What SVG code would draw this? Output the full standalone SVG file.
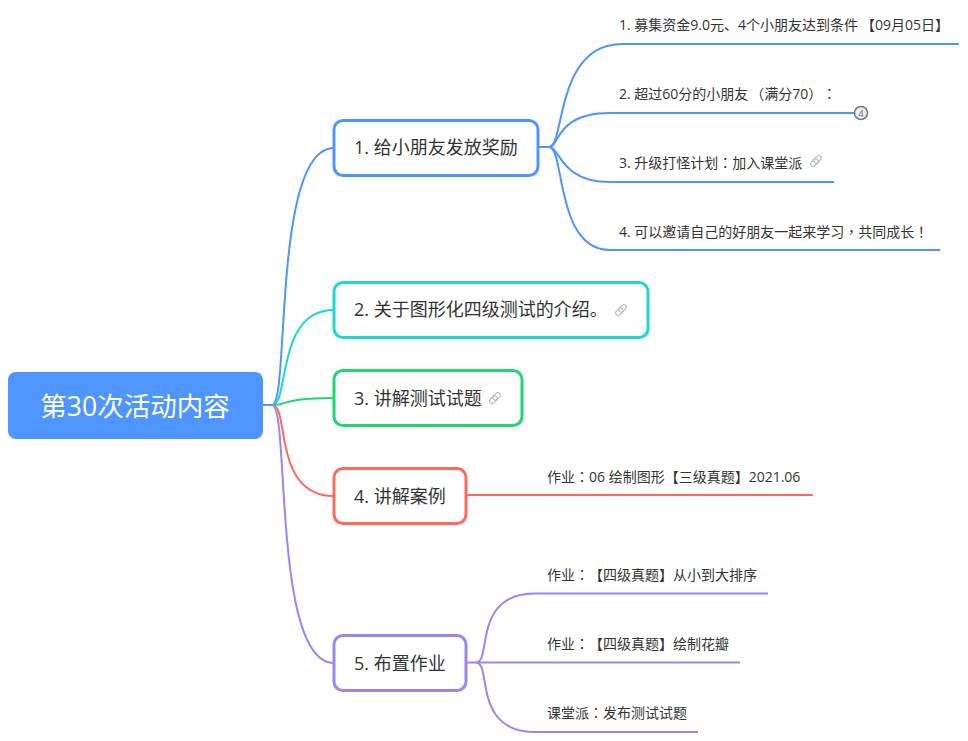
<svg xmlns="http://www.w3.org/2000/svg" width="968" height="741" viewBox="0 0 968 741">
<style>
text{font-family:"Open Sans","Noto Sans CJK SC",sans-serif;fill:#333;text-spacing-trim:space-all}
.n{font-size:18px}
.l{font-size:14px}
.p{font-family:"Noto Sans CJK TC",sans-serif}
.box{fill:#fff;stroke-width:3}
.c{fill:none;stroke-width:2}
.lk{fill:none;stroke:#b4b4b4;stroke-width:1}
</style>
<defs>
<g id="link"><rect x="-7" y="-2.500" width="8.500" height="5" rx="2.500" transform="rotate(-45 -2.700 0) translate(-0.300 1.900)" class="lk"/><rect x="-1.500" y="-2.500" width="8.500" height="5" rx="2.500" transform="rotate(-45 2.700 0) translate(0.300 -1.900)" class="lk"/></g>
</defs>
<rect width="968" height="741" fill="#fff"/>
<g id="connectors">
<g stroke="#4f95ff" class="c">
<path d="M263 405H272C290 405 272 148 334 148"/>
<path d="M538 147H549C565 147 555 44 622 44H959"/>
<path d="M549 147C560 147 555 113 610 113H854"/>
<path d="M549 147C560 147 560 182 610 182H834"/>
<path d="M549 147C565 147 555 250 610 250H940"/>
</g>
<path stroke="#1dd8d0" class="c" d="M272 405C290 405 275 310 334 310"/>
<path stroke="#1ed76f" class="c" d="M272 405C290 405 280 398 334 398"/>
<path stroke="#ff6a5e" class="c" d="M272 405C290 405 272 496 334 496"/>
<path stroke="#ff6a5e" class="c" d="M466 495H813"/>
<path stroke="#9c84f5" class="c" d="M272 405C290 405 272 663 334 663"/>
<g stroke="#9c84f5" class="c">
<path d="M466 662.500H476C492 662.500 472 593.500 535 593.500H768"/>
<path d="M476 662.500H740"/>
<path d="M476 662.500C492 662.500 472 732 535 732H698"/>
</g>
</g>
<g id="root"><rect x="8" y="372" width="255" height="67" rx="8" fill="#4f95ff"/><text x="135" y="416" font-size="26.500" text-anchor="middle" style="fill:#fff">第30次活动内容</text></g>
<g id="node1"><rect class="box" x="334" y="120.500" width="204" height="55" rx="9" stroke="#4f95ff"/><text class="n" x="354" y="154">1. 给小朋友发放奖励</text></g>
<g id="node2"><rect class="box" x="334" y="282.500" width="314" height="55" rx="9" stroke="#1dd8d0"/><text class="n" x="354" y="316">2. 关于图形化四级测试的介绍。</text><use href="#link" x="621" y="310"/></g>
<g id="node3"><rect class="box" x="334" y="370.500" width="188" height="55" rx="9" stroke="#1ed76f"/><text class="n" x="354" y="405">3. 讲解测试试题</text><use href="#link" x="495" y="398"/></g>
<g id="node4"><rect class="box" x="334" y="468.500" width="132" height="55" rx="9" stroke="#ff6a5e"/><text class="n" x="354" y="503">4. 讲解案例</text></g>
<g id="node5"><rect class="box" x="334" y="635.500" width="132" height="55" rx="9" stroke="#9c84f5"/><text class="n" x="354" y="670">5. 布置作业</text></g>
<g id="leaf11"><text class="l" x="619" y="30">1. 募集资金9.0元、4个小朋友达到条件<tspan dx="3">【09月05日】</tspan></text></g>
<g id="leaf12"><text class="l" x="619" y="99">2. 超过60分的小朋友<tspan class="p" dx="2">（</tspan>满分70<tspan class="p">）：</tspan></text><circle cx="861" cy="113" r="6.500" fill="#eee" stroke="#777" stroke-width="1.500"/><text x="861" y="116.500" font-size="9" text-anchor="middle" style="fill:#666">4</text></g>
<g id="leaf13"><text class="l" x="619" y="168">3. 升级打怪计划<tspan class="p">：</tspan>加入课堂派</text><use href="#link" x="816" y="161"/></g>
<g id="leaf14"><text class="l" x="619" y="237">4. 可以邀请自己的好朋友一起来学习<tspan class="p">，</tspan>共同成长<tspan class="p">！</tspan></text></g>
<g id="leaf41"><text class="l" x="547" y="482">作业<tspan class="p">：</tspan>06 绘制图形【三级真题】2021.06</text></g>
<g id="leaf51"><text class="l" x="547" y="580">作业<tspan class="p">：</tspan>【四级真题】从小到大排序</text></g>
<g id="leaf52"><text class="l" x="547" y="649">作业<tspan class="p">：</tspan>【四级真题】绘制花瓣</text></g>
<g id="leaf53"><text class="l" x="547" y="718">课堂派<tspan class="p">：</tspan>发布测试试题</text></g>
</svg>
